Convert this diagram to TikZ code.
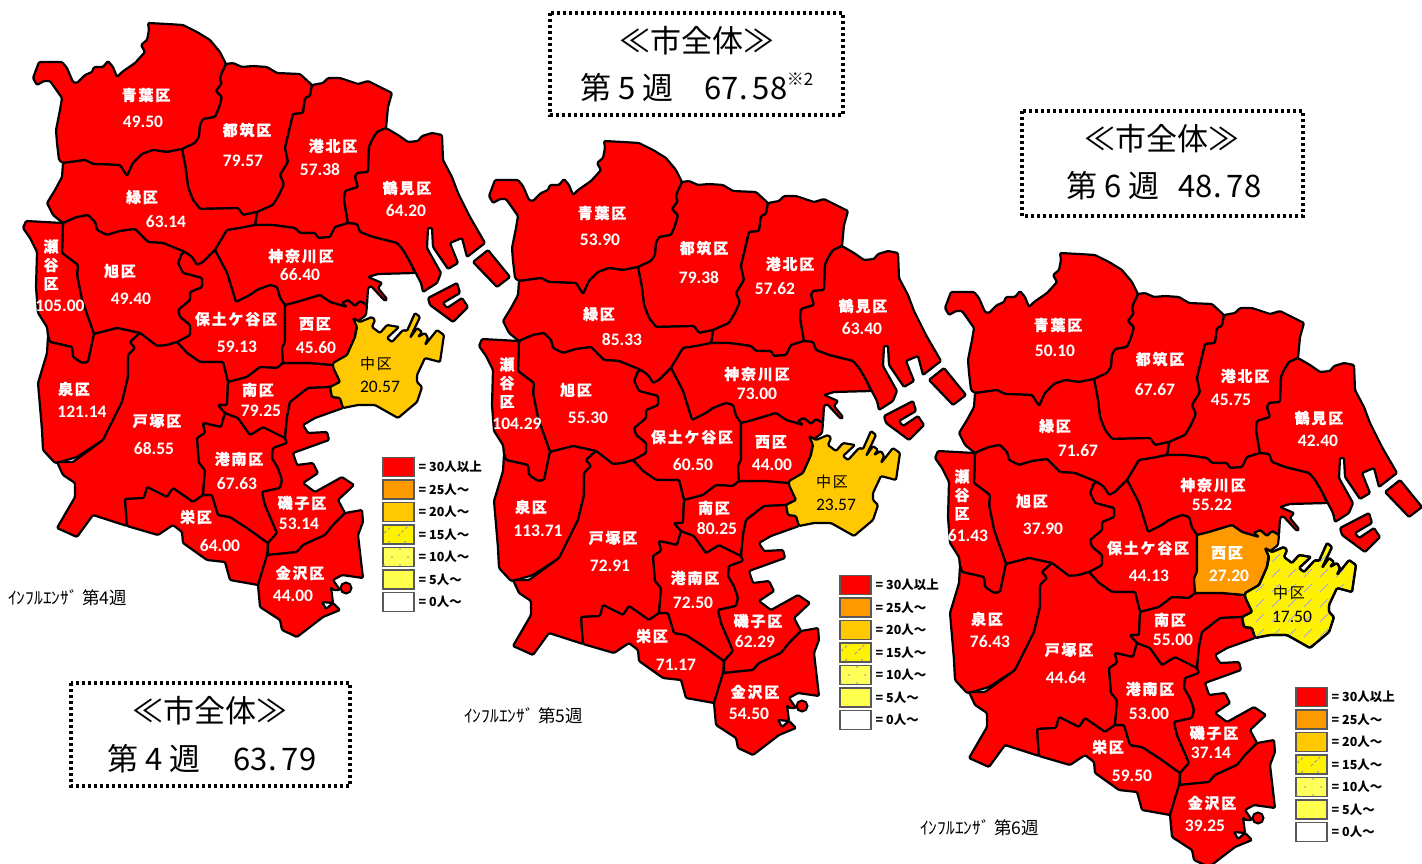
\documentclass[tikz,border=0pt]{standalone}
\usepackage{fontspec}
\setmainfont{Noto Sans CJK JP}
\newfontfamily\wardf[LetterSpace=12,BoldFeatures={FakeBold=0.4}]{Noto Sans CJK JP}
\newfontfamily\numf{Carlito}
\newcommand\wAoba{(148,23)--(167,24)--(183,25)--(197,32)--(210,40)--(220,52)--(226,64)--(221,75)--(220,80)--(222,83)--(216,91)--(222,97)--(219,108)--(215,117)--(203,119)--(200,125)--(199,137)--(195,143)--(182,149)--(167,152)--(153,150)--(142,154)--(133,163)--(127,176)--(120,165)--(93,164)--(85,160)--(63,163)--(59,160)--(57,143)--(56,130)--(60,110)--(62,98)--(55,88)--(50,81)--(44,81)--(37,85)--(33,78)--(39,62)--(62,62)--(67,68)--(73,82)--(77,83)--(85,75)--(92,72)--(94,67)--(103,67)--(108,61)--(113,67)--(117,77)--(122,72)--(135,63)--(145,52)--(141,45)--(147,40)--(149,30)--cycle}
\newcommand\wTsuzuki{(226,64)--(233,63)--(242,67)--(253,66)--(267,67)--(277,73)--(300,74)--(312,85)--(310,96)--(305,98)--(303,113)--(293,114)--(290,127)--(285,148)--(288,162)--(280,175)--(284,184)--(279,195)--(273,205)--(257,212)--(243,215)--(238,208)--(200,209)--(193,200)--(188,187)--(186,170)--(182,149)--(195,143)--(199,137)--(200,125)--(203,119)--(215,117)--(219,108)--(222,97)--(216,91)--(222,83)--(220,80)--(221,75)--cycle}
\newcommand\wKohoku{(312,85)--(323,83)--(328,78)--(340,78)--(358,84)--(368,81)--(380,87)--(392,93)--(388,107)--(386,128)--(377,132)--(372,140)--(369,147)--(368,172)--(357,173)--(355,177)--(358,187)--(345,191)--(344,200)--(348,223)--(335,227)--(330,237)--(318,238)--(315,233)--(300,233)--(295,228)--(273,225)--(255,225)--(257,212)--(273,205)--(279,195)--(284,184)--(280,175)--(288,162)--(285,148)--(290,127)--(293,114)--(303,113)--(305,98)--(310,96)--cycle}
\newcommand\wTsurumi{(386,128)--(398,135)--(408,142)--(418,141)--(422,136)--(432,133)--(442,135)--(443,160)--(452,177)--(458,193)--(470,217)--(485,243)--(467,257)--(462,238)--(450,243)--(458,263)--(448,269)--(433,247)--(432,228)--(428,228)--(427,248)--(441,273)--(437,283)--(423,292)--(421,283)--(410,262)--(403,250)--(397,243)--(373,237)--(360,232)--(357,224)--(348,223)--(344,200)--(345,191)--(358,187)--(355,177)--(357,173)--(368,172)--(369,147)--(372,140)--(377,132)--cycle}
\newcommand\wMidori{(63,163)--(62,177)--(55,190)--(47,203)--(53,215)--(63,223)--(77,217)--(88,215)--(95,222)--(97,230)--(107,235)--(120,231)--(135,229)--(148,242)--(163,243)--(185,252)--(192,257)--(197,265)--(203,262)--(215,250)--(227,230)--(240,228)--(255,225)--(257,212)--(243,215)--(238,208)--(200,209)--(193,200)--(188,187)--(186,170)--(182,149)--(167,152)--(153,150)--(142,154)--(133,163)--(127,176)--(120,165)--(93,164)--(85,160)--cycle}
\newcommand\wKanagawa{(215,250)--(227,230)--(240,228)--(255,225)--(273,225)--(295,228)--(300,233)--(315,233)--(318,238)--(330,237)--(335,227)--(348,223)--(357,224)--(360,232)--(373,237)--(397,243)--(403,250)--(410,262)--(415,273)--(378,274)--(368,277)--(382,283)--(378,288)--(387,299)--(385,301)--(371,286)--(368,288)--(367,305)--(360,301)--(355,306)--(348,300)--(342,303)--(347,307)--(330,302)--(320,295)--(297,302)--(285,305)--(280,298)--(277,287)--(270,285)--(257,290)--(250,295)--(236,302)--(227,273)--cycle}
\newcommand\wNishi{(285,305)--(297,302)--(320,295)--(330,302)--(347,307)--(342,303)--(348,300)--(355,306)--(360,301)--(367,305)--(366,315)--(357,322)--(355,337)--(347,355)--(333,365)--(310,363)--(283,363)--(282,348)--(285,342)--cycle}
\newcommand\wNaka{(353,318)--(360,322)--(372,317)--(375,320)--(372,327)--(380,333)--(387,325)--(399,327)--(387,338)--(392,342)--(403,330)--(407,331)--(415,313)--(420,317)--(410,338)--(417,328)--(422,332)--(418,337)--(425,333)--(428,338)--(425,345)--(437,330)--(444,335)--(440,362)--(425,358)--(417,375)--(417,382)--(422,387)--(417,402)--(398,418)--(375,405)--(358,405)--(343,408)--(340,398)--(332,397)--(330,387)--(340,382)--(333,367)--(333,363)--(347,355)--(355,337)--(357,327)--cycle}
\newcommand\wHodo{(215,250)--(227,273)--(236,302)--(250,295)--(257,290)--(270,285)--(277,287)--(280,298)--(285,305)--(285,342)--(282,348)--(283,363)--(277,368)--(260,367)--(247,377)--(228,382)--(223,362)--(200,362)--(187,353)--(177,342)--(190,335)--(190,325)--(180,317)--(178,310)--(190,300)--(190,292)--(202,287)--(202,278)--(183,273)--(178,263)--(182,253)--(185,252)--(192,257)--(197,265)--(203,262)--cycle}
\newcommand\wAsahi{(63,223)--(62,253)--(78,265)--(77,275)--(82,300)--(94,334)--(117,328)--(140,333)--(157,346)--(167,345)--(177,342)--(190,335)--(190,325)--(180,317)--(178,310)--(190,300)--(190,292)--(202,287)--(202,278)--(183,273)--(178,263)--(182,253)--(185,252)--(163,243)--(148,242)--(135,229)--(120,231)--(107,235)--(97,230)--(95,222)--(88,215)--(77,217)--cycle}
\newcommand\wSeya{(26,221)--(63,223)--(62,253)--(78,265)--(77,275)--(82,300)--(94,334)--(88,362)--(82,363)--(73,357)--(72,347)--(50,342)--(48,336)--(47,327)--(38,313)--(36,287)--(37,252)--(30,238)--(23,228)--cycle}
\newcommand\wIzumi{(48,336)--(50,342)--(72,347)--(73,357)--(82,363)--(88,362)--(94,334)--(117,328)--(140,333)--(130,342)--(135,348)--(128,355)--(128,377)--(122,402)--(113,420)--(103,440)--(77,457)--(60,462)--(55,463)--(43,450)--(42,430)--(38,383)--(47,353)--cycle}
\newcommand\wTotsuka{(140,333)--(157,346)--(167,345)--(177,342)--(187,353)--(200,362)--(223,362)--(228,382)--(227,405)--(218,405)--(225,413)--(221,427)--(203,423)--(205,433)--(197,438)--(199,463)--(205,470)--(203,495)--(193,502)--(173,488)--(167,497)--(147,487)--(144,498)--(125,499)--(127,526)--(93,515)--(77,537)--(57,528)--(75,497)--(75,483)--(63,475)--(57,462)--(73,462)--(103,440)--(113,420)--(122,402)--(128,377)--(128,355)--(135,348)--(130,342)--cycle}
\newcommand\wSakae{(125,499)--(144,498)--(147,487)--(167,497)--(173,488)--(193,502)--(203,495)--(212,495)--(218,515)--(230,517)--(247,528)--(268,543)--(267,557)--(258,585)--(230,580)--(225,562)--(207,560)--(183,543)--(182,532)--(173,525)--(158,535)--(127,526)--cycle}
\newcommand\wKonan{(197,438)--(205,433)--(203,423)--(221,427)--(225,413)--(238,418)--(250,435)--(263,427)--(285,438)--(287,443)--(273,448)--(272,458)--(278,468)--(282,480)--(280,488)--(262,492)--(265,505)--(277,533)--(268,543)--(247,528)--(230,517)--(218,515)--(212,495)--(203,495)--(205,470)--(199,463)--cycle}
\newcommand\wMinami{(228,382)--(247,377)--(260,367)--(277,368)--(283,363)--(310,363)--(333,365)--(340,382)--(330,387)--(308,388)--(290,402)--(287,417)--(285,438)--(263,427)--(250,435)--(238,418)--(225,413)--(218,405)--(227,405)--cycle}
\newcommand\wIsogo{(330,387)--(332,397)--(340,398)--(343,408)--(315,418)--(303,425)--(308,433)--(327,432)--(329,440)--(293,453)--(297,465)--(313,463)--(318,473)--(303,483)--(315,492)--(342,477)--(354,485)--(338,500)--(345,513)--(333,525)--(325,535)--(303,545)--(297,552)--(268,555)--(268,543)--(277,533)--(265,505)--(262,492)--(280,488)--(282,480)--(278,468)--(272,458)--(273,448)--(287,443)--(285,438)--(287,417)--(290,402)--(308,388)--cycle}
\newcommand\wKanazawa{(267,555)--(297,552)--(303,545)--(325,535)--(333,525)--(345,513)--(362,510)--(363,522)--(358,535)--(363,578)--(342,575)--(333,580)--(340,590)--(333,590)--(331,587)--(333,603)--(322,602)--(326,609)--(333,603)--(340,610)--(323,617)--(297,637)--(282,630)--(280,620)--(260,607)--(258,585)--cycle}
\newcounter{lb}
\tikzset{
 wardst/.style={draw=black,line width=2.2pt,line join=round,rounded corners=1.2pt},
 wname/.style={text=white,inner sep=0pt,font={\fontsize{15}{18.5}\selectfont\wardf\bfseries}},
 wnum/.style={text=white,inner sep=0pt,font={\fontsize{17.5}{17}\selectfont\numf\bfseries}},
 nname/.style={text=black,inner sep=0pt,font={\fontsize{15}{17}\selectfont\wardf}},
 nnum/.style={text=black,inner sep=0pt,font={\fontsize{17.5}{17}\selectfont\numf}},
 legbox/.style={draw=black!65,line width=1.2pt},
 legtxt/.style={anchor=west,inner sep=0pt,font={\fontsize{12.5}{13}\selectfont\bfseries}},
 titbox/.style={draw=black,line width=3.4pt,dash pattern=on 3pt off 3pt},
 tittxt/.style={inner sep=0pt,font={\fontsize{31}{33}\selectfont}},
 caption/.style={anchor=west,inner sep=0pt,font={\fontsize{17.5}{18}\selectfont}},
}
\newcommand\lab[6]{\stepcounter{lb}\node[wname] (n\thelb) at (#1,#2) {#3};\node[wnum] (v\thelb) at (#4,#5) {#6};}
\newcommand\labd[6]{\stepcounter{lb}\node[nname] (n\thelb) at (#1,#2) {#3};\node[nnum] (v\thelb) at (#4,#5) {#6};}
\newcommand\labv[5]{\stepcounter{lb}\node[wname,align=center] (n\thelb) at (#1,#2) {瀬\\谷\\区};\node[wnum] (v\thelb) at (#3,#4) {#5};}
\newcommand\themap[4]{% dx dy nishi naka
 \begin{scope}[shift={(#1,#2)}]
  \foreach \w in {\wAoba,\wTsuzuki,\wKohoku,\wTsurumi,\wMidori,\wKanagawa,\wHodo,\wAsahi,\wSeya,\wIzumi,\wTotsuka,\wSakae,\wKonan,\wMinami,\wIsogo,\wKanazawa}{\draw[wardst,fill=red] \w;}
  \draw[wardst,fill=#3] \wNishi;
  \draw[wardst,fill=#4] \wNaka;
  \draw[wardst,fill=red] (473,262)--(488,250)--(510,277)--(497,287)--cycle;
  \draw[wardst,fill=red] (428,298)--(457,283)--(460,293)--(443,303)--(447,308)--(462,298)--(468,307)--(453,322)--(430,305)--cycle;
  \draw[black,line width=2pt,fill=red] (346,588) circle (5.5);
 \end{scope}}
\newcommand\legend[2]{%
 \begin{scope}[shift={(#1,#2)}]
  \draw[legbox,fill=red] (383,457.5) rectangle (414,476.5);
  \draw[legbox,fill={rgb,255:red,255;green,153;blue,0}] (383,480) rectangle (414,499);
  \draw[legbox,fill={rgb,255:red,255;green,200;blue,0}] (383,502.5) rectangle (414,521.5);
  \draw[legbox,fill=yellow] (383,525) rectangle (414,544);
  \draw[black!40,line width=.9pt,dash pattern=on 3pt off 2pt] (384,533)--(392,526) (398,536)--(408,526) (388,543)--(390,541) (404,543)--(407,540);
  \draw[legbox,fill={rgb,255:red,255;green,255;blue,90}] (383,547.5) rectangle (414,566.5);
  \foreach \p in {(384,565),(392,557),(400,549),(408,557),(400,565)}{\fill[black!40] \p circle (.8);}
  \draw[legbox,fill={rgb,255:red,255;green,255;blue,77}] (383,570) rectangle (414,589);
  \draw[legbox,fill=white] (383,592.5) rectangle (414,611.5);
  \stepcounter{lb}
  \node[legtxt] (l\thelb a) at (418.5,467) {= 30人以上};
  \node[legtxt] (l\thelb b) at (418.5,489.5) {= 25人～};
  \node[legtxt] (l\thelb c) at (418.5,512) {= 20人～};
  \node[legtxt] (l\thelb d) at (418.5,534.5) {= 15人～};
  \node[legtxt] (l\thelb e) at (418.5,557) {= 10人～};
  \node[legtxt] (l\thelb f) at (418.5,579.5) {= 5人～};
  \node[legtxt] (l\thelb g) at (418.5,602) {= 0人～};
 \end{scope}}
\begin{document}
\begin{tikzpicture}[x=1pt,y=-1pt]
\useasboundingbox (0,0) rectangle (1422,863);
\themap{0}{0}{red}{{rgb,255:red,255;green,200;blue,0}}
\themap{456}{118}{red}{{rgb,255:red,255;green,200;blue,0}}
\themap{912}{230}{{rgb,255:red,255;green,153;blue,0}}{yellow}
\begin{scope}[shift={(912,230)}]
 \begin{scope}
  \clip \wNaka;
  \foreach \i in {0,...,8}{\foreach \j in {0,...,8}{
    \draw[black!30!blue!35!white,line width=1pt] ({328+\i*16},{422-\j*15}) -- ++(8,-8);}}
 \end{scope}
 \draw[wardst] \wNaka;
\end{scope}
% labels map 1
\lab{146}{95}{青葉区}{143}{122}{49.50}
\lab{247}{130}{都筑区}{243}{161}{79.57}
\lab{333}{146}{港北区}{320}{170}{57.38}
\lab{407}{188}{鶴見区}{406}{211}{64.20}
\lab{142}{197}{緑区}{166}{222}{63.14}
\lab{301}{256}{神奈川区}{300}{275}{66.40}
\labv{51}{265}{60}{306}{105.00}
\lab{120}{271}{旭区}{131}{299}{49.40}
\lab{236}{319}{保土ケ谷区}{237}{347}{59.13}
\lab{315}{324}{西区}{316}{348}{45.60}
\labd{376}{364}{中区}{380}{387}{20.57}
\lab{74}{389}{泉区}{82}{412}{121.14}
\lab{157}{421}{戸塚区}{154}{449}{68.55}
\lab{258}{390}{南区}{261}{411}{79.25}
\lab{239}{459}{港南区}{237}{484}{67.63}
\lab{302}{503}{磯子区}{299}{524}{53.14}
\lab{196}{517}{栄区}{220}{546}{64.00}
\lab{300}{573}{金沢区}{293}{596}{44.00}
% map 2
\lab{602}{213}{青葉区}{600}{240}{53.90}
\lab{704}{248}{都筑区}{699}{278}{79.38}
\lab{790}{264}{港北区}{775}{289}{57.62}
\lab{863}{306}{鶴見区}{862}{329}{63.40}
\lab{599}{314}{緑区}{622}{340}{85.33}
\lab{757}{374}{神奈川区}{757}{394}{73.00}
\labv{507}{383}{517}{424}{104.29}
\lab{576}{390}{旭区}{588}{418}{55.30}
\lab{692}{437}{保土ケ谷区}{693}{465}{60.50}
\lab{771}{442}{西区}{772}{465}{44.00}
\labd{832}{482}{中区}{836}{505}{23.57}
\lab{531}{507}{泉区}{538}{531}{113.71}
\lab{613}{538}{戸塚区}{610}{566}{72.91}
\lab{714}{508}{南区}{717}{529}{80.25}
\lab{695}{578}{港南区}{693}{603}{72.50}
\lab{758}{621}{磯子区}{755}{642}{62.29}
\lab{652}{636}{栄区}{676}{665}{71.17}
\lab{755}{692}{金沢区}{749}{714}{54.50}
% map 3
\lab{1058}{325}{青葉区}{1055}{351}{50.10}
\lab{1160}{359}{都筑区}{1155}{390}{67.67}
\lab{1245}{376}{港北区}{1231}{400}{45.75}
\lab{1319}{418}{鶴見区}{1318}{441}{42.40}
\lab{1055}{426}{緑区}{1078}{451}{71.67}
\lab{1213}{485}{神奈川区}{1212}{505}{55.22}
\labv{962}{495}{968}{536}{61.43}
\lab{1032}{501}{旭区}{1043}{529}{37.90}
\lab{1148}{548}{保土ケ谷区}{1149}{576}{44.13}
\lab{1227}{553}{西区}{1229}{576}{27.20}
\labd{1289}{593}{中区}{1292}{617}{17.50}
\lab{987}{619}{泉区}{990}{642}{76.43}
\lab{1069}{650}{戸塚区}{1066}{678}{44.64}
\lab{1170}{620}{南区}{1173}{640}{55.00}
\lab{1150}{689}{港南区}{1149}{714}{53.00}
\lab{1214}{733}{磯子区}{1211}{753}{37.14}
\lab{1108}{747}{栄区}{1132}{776}{59.50}
\lab{1212}{803}{金沢区}{1205}{826}{39.25}
% legends
\legend{0}{0}
\legend{457}{118}
\legend{913}{230}
% captions
\node[caption] (c1) at (8,598) {ｲﾝﾌﾙｴﾝｻﾞ 第4週};
\node[caption] (c2) at (464,716) {ｲﾝﾌﾙｴﾝｻﾞ 第5週};
\node[caption] (c3) at (920,828) {ｲﾝﾌﾙｴﾝｻﾞ 第6週};
% title boxes
\draw[titbox] (71,683) rectangle (350,786);
\draw[titbox] (550,13) rectangle (843,115);
\draw[titbox] (1022,111) rectangle (1303,216);
\node[tittxt] (t1) at (210,711) {≪市全体≫};
\node[tittxt] (t1a) at (154,759) {第 4 週};
\node[tittxt] (t1b) at (275,759) {63.\,79};
\node[tittxt] (t2) at (697,41) {≪市全体≫};
\node[tittxt] (t2a) at (627,88) {第 5 週};
\node[tittxt] (t2b) at (746,88) {67.\,58};
\node[inner sep=0pt,font={\fontsize{17}{18}\selectfont}] (t2c) at (800,79) {※2};
\node[tittxt] (t3) at (1162,139) {≪市全体≫};
\node[tittxt] (t3a) at (1113,186) {第 6 週};
\node[tittxt] (t3b) at (1220,186) {48.\,78};
\end{tikzpicture}
\end{document}
